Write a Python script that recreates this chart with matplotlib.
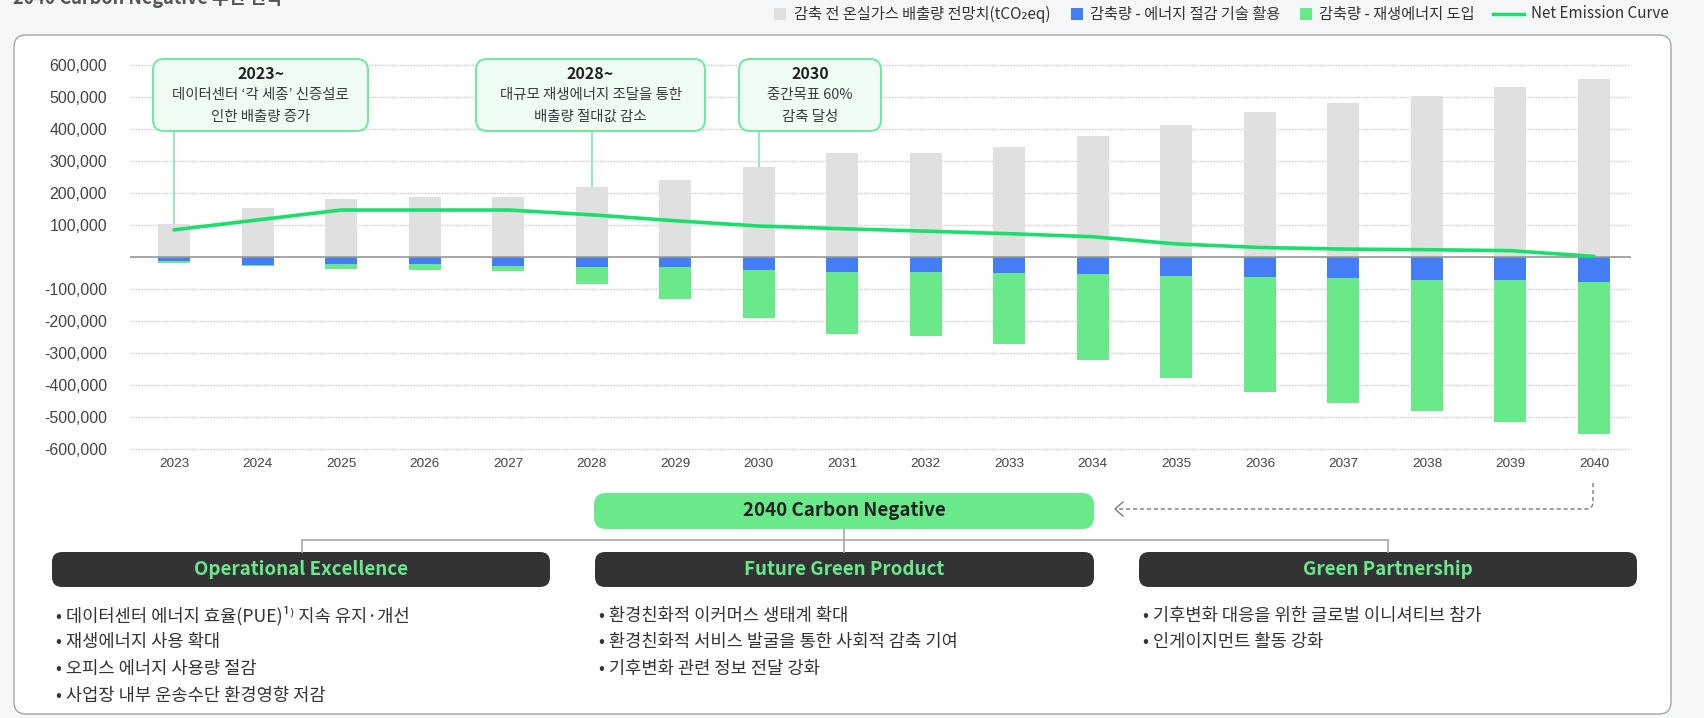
import matplotlib
matplotlib.use('Agg')
import matplotlib.pyplot as plt
from matplotlib.patches import FancyBboxPatch, Rectangle, PathPatch
from matplotlib.path import Path
from matplotlib.lines import Line2D
from matplotlib.ticker import FuncFormatter, MultipleLocator

W, H, DPI = 1704, 718, 100

# emissions outlook, tCO2eq
years = [str(y) for y in range(2023, 2041)]
baseline = [103000, 153000, 181000, 187500, 187500, 217000, 241000, 281000, 325000,
            325000, 344000, 378000, 412500, 453000, 481000, 503000, 531000, 556000]
energy_cut = [14600, 24500, 21500, 21500, 27500, 30500, 30500, 40300, 46400,
              47000, 50000, 53000, 59000, 62500, 66000, 72000, 72000, 78000]
renew_cut = [5900, 5500, 15500, 18800, 15900, 55500, 102500, 149700, 193600,
             202000, 224000, 269000, 319000, 361500, 392000, 411000, 443000, 477000]
net_emission = [84000, 115000, 146000, 146000, 146000, 131000, 112500, 96000, 87500,
                80000, 72000, 62500, 40000, 29000, 24000, 22000, 19000, 1000]

legend_labels = ['감축 전 온실가스 배출량 전망치(tCO₂eq)', '감축량 - 에너지 절감 기술 활용',
                 '감축량 - 재생에너지 도입', 'Net Emission Curve']

callout_years = ['2023', '2028', '2030']
callout_titles = ['2023~', '2028~', '2030']
callout_lines = [['데이터센터 ‘각 세종’ 신증설로', '인한 배출량 증가'],
                 ['대규모 재생에너지 조달을 통한', '배출량 절대값 감소'],
                 ['중간목표 60%', '감축 달성']]

goal = '2040 Carbon Negative'
pillars = ['Operational Excellence', 'Future Green Product', 'Green Partnership']
pillar_items = [
    ['데이터센터 에너지 효율(PUE)¹⁾ 지속 유지·개선', '재생에너지 사용 확대',
     '오피스 에너지 사용량 절감', '사업장 내부 운송수단 환경영향 저감'],
    ['환경친화적 이커머스 생태계 확대', '환경친화적 서비스 발굴을 통한 사회적 감축 기여',
     '기후변화 관련 정보 전달 강화'],
    ['기후변화 대응을 위한 글로벌 이니셔티브 참가', '인게이지먼트 활동 강화'],
]

GRAY = '#e0e0e0'
BLUE = '#437ef7'
GREEN = '#6ae98a'
LINE = '#19e06b'

plt.rcParams['font.family'] = ['Noto Sans CJK KR', 'DejaVu Sans']

fig = plt.figure(figsize=(W / DPI, H / DPI), dpi=DPI, facecolor='#f6f7f9')
tr = fig.dpi_scale_trans


def rbox(x0, y0, x1, y1, r, fc, ec='none', lw=0, z=2):
    p = FancyBboxPatch((x0 / DPI, (H - y1) / DPI), (x1 - x0) / DPI, (y1 - y0) / DPI,
                       boxstyle=f'round,pad=0,rounding_size={r / DPI}',
                       transform=tr, fc=fc, ec=ec, lw=lw, zorder=z)
    fig.add_artist(p)


def txt(x, y, s, size, color='#333333', weight='normal', ha='center', va='center', **kw):
    fig.text(x / DPI, (H - y) / DPI, s, transform=tr, fontsize=size, color=color,
             fontweight=weight, ha=ha, va=va, zorder=5, **kw)


def seg(xs, ys, color, lw, **kw):
    fig.add_artist(Line2D([x / DPI for x in xs], [(H - y) / DPI for y in ys],
                          transform=tr, color=color, lw=lw, zorder=4, **kw))


# page title (cut by the top edge) and white card
txt(13, 4, '2040 Carbon Negative 추진 전략', 13, color='#555555', weight='bold',
    ha='left', va='baseline')
rbox(14, 35, 1671, 714, 12, 'white', '#a5a5a5', 1.0, z=-1)

# legend
for x0, c in [(774, GRAY), (1071, BLUE), (1300, GREEN)]:
    fig.add_artist(Rectangle((x0 / DPI, (H - 20) / DPI), 12 / DPI, 12 / DPI,
                             transform=tr, fc=c, ec='none', zorder=4))
seg([1493, 1524], [14, 14], LINE, 2.5)
for x0, lab in zip([794, 1090, 1319, 1531], legend_labels):
    txt(x0, 14, lab, 11, color='#333333', ha='left')

# chart
ax = fig.add_axes([130 / W, 1 - 452 / H, (1631 - 130) / W, (452 - 61.5) / H])
ax.patch.set_alpha(0)
x = list(range(len(years)))
bw = 0.383
ax.bar(x, baseline, width=bw, color=GRAY, zorder=2)
ax.bar(x, [-v for v in energy_cut], width=bw, color=BLUE, zorder=2)
ax.bar(x, [-v for v in renew_cut], width=bw, bottom=[-v for v in energy_cut],
       color=GREEN, zorder=2)
ax.plot(x, net_emission, color=LINE, lw=2.6, zorder=4, solid_capstyle='round')
ax.axhline(0, color='#9a9a9a', lw=1.2, zorder=3)

ax.set_xlim(-0.527, 17.443)
ax.set_ylim(-610000, 610000)
ax.set_xticks(x)
ax.set_xticklabels(years)
ax.yaxis.set_major_locator(MultipleLocator(100000))
ax.yaxis.set_major_formatter(FuncFormatter(lambda v, p: '' if abs(v) < 1 else f'{int(v):,}'))
ax.tick_params(length=0)
ax.tick_params(axis='y', pad=16.5, labelsize=11.5, labelcolor='#444444')
ax.tick_params(axis='x', pad=4.5, labelsize=9.7, labelcolor='#444444')
for lab in ax.get_xticklabels() + ax.get_yticklabels():
    lab.set_fontfamily('Liberation Sans')
ax.set_ylim(-610000, 610000)
ax.grid(axis='y', color='#c9c9c9', lw=1.0, linestyle=(0, (1, 1)), zorder=0)
for s in ax.spines.values():
    s.set_visible(False)

# callouts over the chart
box_x = [(153, 368), (476, 705), (739, 881)]
box_top, box_bot = 59, 131
y_box = ax.transData.inverted().transform((0, H - box_bot))[1]
for yr, title, lines, (bx0, bx1) in zip(callout_years, callout_titles, callout_lines, box_x):
    i = years.index(yr)
    ax.plot([i, i], [baseline[i], y_box], color='#7fe9ad', lw=1.2, zorder=1, clip_on=False)
    rbox(bx0, box_top, bx1, box_bot, 11, '#effdf4', '#6ee9a0', 1.4, z=3)
    cx = (bx0 + bx1) / 2
    txt(cx, 74, title, 11.5, color='#222222', weight='bold')
    txt(cx, 95.5, lines[0], 10.4, color='#3a3a3a')
    txt(cx, 117, lines[1], 10.4, color='#3a3a3a')

# dashed arrow from 2040 to the goal
arrow = Path([(1593 / DPI, (H - 483) / DPI), (1593 / DPI, (H - 502) / DPI),
              (1593 / DPI, (H - 509) / DPI), (1586 / DPI, (H - 509) / DPI),
              (1116 / DPI, (H - 509) / DPI)],
             [Path.MOVETO, Path.LINETO, Path.CURVE3, Path.CURVE3, Path.LINETO])
fig.add_artist(PathPatch(arrow, transform=tr, fc='none', ec='#7a7a7a', lw=1.0,
                         linestyle=(0, (3, 2)), zorder=4))
seg([1123, 1115, 1123], [502, 509, 516], '#7a7a7a', 1.0)

# goal and pillars
rbox(594, 493, 1094, 529, 12, GREEN, z=3)
txt(844, 511, goal, 13.5, color='#222222', weight='bold')
seg([302, 1388], [540, 540], '#a8a8a8', 1.2)
seg([844, 844], [529, 552], '#a8a8a8', 1.2)
seg([302, 302], [540, 552], '#a8a8a8', 1.2)
seg([1388, 1388], [540, 552], '#a8a8a8', 1.2)

col_x = [(52, 550), (595, 1094), (1139, 1637)]
for name, items, (cx0, cx1) in zip(pillars, pillar_items, col_x):
    rbox(cx0, 552, cx1, 587, 10, '#333335', z=3)
    txt((cx0 + cx1) / 2, 569.5, name, 13.5, color=GREEN, weight='bold')
    for k, item in enumerate(items):
        txt(cx0 + 4, 616 + 26.5 * k, '• ' + item, 12.7, color='#333333', ha='left')

fig.savefig('out.png', dpi=DPI, facecolor=fig.get_facecolor())
